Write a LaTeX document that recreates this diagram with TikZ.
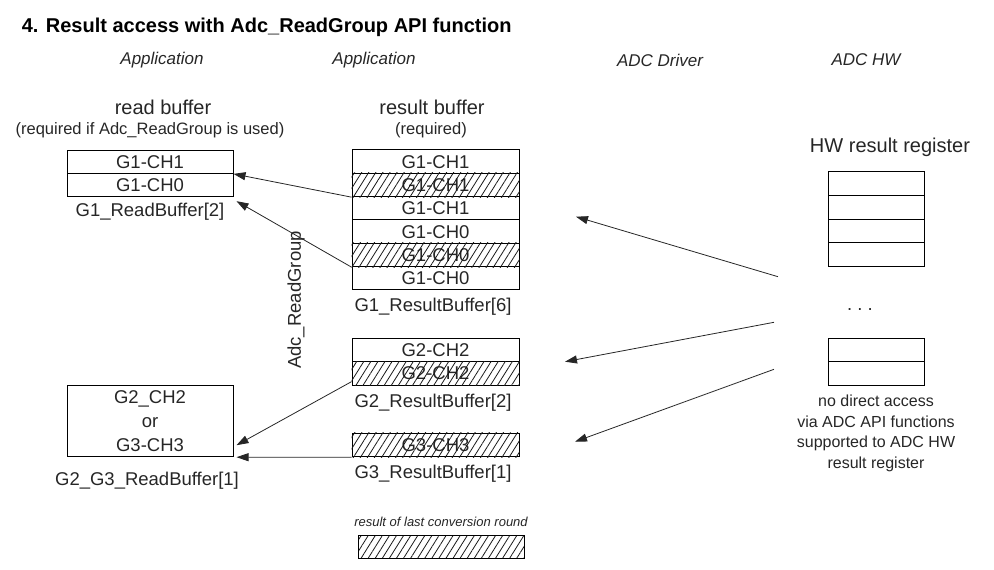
\documentclass[tikz,border=0pt]{standalone}
\usepackage{fontspec}
\setmainfont{Liberation Sans}
\usetikzlibrary{arrows.meta,patterns.meta}

\def\cellw{167pt}
\def\cellh{23.33pt}

\begin{document}
\begin{tikzpicture}[x=1pt,y=-1pt,>={Triangle[length=12pt,width=8pt]},line width=1pt]
        \tikzstyle{cell}=[draw=black,minimum width=\cellw,minimum height=\cellh,inner sep=0pt,text=black!85,font=\fontsize{18.5}{24}\selectfont]
        \tikzstyle{hatch}=[pattern={Lines[angle=58,distance=6pt,line width=0.8pt]},pattern color=black!90]
        \tikzstyle{hwcell}=[cell,minimum width=96pt]
        \tikzstyle{head}=[text=black!85,font=\fontsize{17}{19}\selectfont\itshape]
        \tikzstyle{lbl}=[text=black!85,font=\fontsize{18.5}{20}\selectfont]
        \tikzstyle{big}=[text=black!85,font=\fontsize{20}{22}\selectfont]
        \tikzstyle{small}=[text=black!85,font=\fontsize{16.5}{20.5}\selectfont,align=center]
        \tikzstyle{conn}=[->,draw=black!85,line width=0.8pt]
        \useasboundingbox (0,0) rectangle (994,570);
        \node[anchor=west,text=black,font=\fontsize{20}{22}\selectfont\bfseries] (title) at (18,27)
            {4. Result access with Adc\_ReadGroup API function};
        % column heads
        \node[head] (app-1) at (162,60) {Application};
        \node[head] (app-2) at (374,60) {Application};
        \node[head] (drv) at (660,60) {ADC Driver};
        \node[head] (hw) at (866,60) {ADC HW};
        % read buffers
        \node[big] (rb) at (163,107) {read buffer};
        \node[small] (rb-req) at (150,130) {(required if Adc\_ReadGroup is used)};
        \node[cell,minimum width=166pt] (B1-1) at (150,161.7) {G1-CH1};
        \node[cell,minimum width=166pt] (B1-2) at (150,185) {G1-CH0};
        \node[lbl] (B1-name) at (150,212) {G1\_ReadBuffer[2]};
        \node[cell,minimum width=166pt,minimum height=71pt,align=center] (B2) at (150,421.2) {G2\_CH2\\or\\G3-CH3};
        \node[lbl] (B2-name) at (147,481) {G2\_G3\_ReadBuffer[1]};
        % result buffers
        \node[big] (res) at (432,107) {result buffer};
        \node[small] (res-req) at (431,130) {(required)};
        \foreach \name / \txt in {1/G1-CH1,2/G1-CH1,3/G1-CH1,4/G1-CH0,5/G1-CH0,6/G1-CH0}
            \node[cell] (R1-\name) at (435.5,138.33+\name*23.33) {\txt};
        \node[lbl] (R1-name) at (433,307) {G1\_ResultBuffer[6]};
        \node[cell] (R2-1) at (435.5,350) {G2-CH2};
        \node[cell] (R2-2) at (435.5,373.5) {G2-CH2};
        \node[lbl] (R2-name) at (433,403) {G2\_ResultBuffer[2]};
        \node[cell] (R3-1) at (435.5,445) {G3-CH3};
        \node[lbl] (R3-name) at (433,474) {G3\_ResultBuffer[1]};
        \foreach \cell in {R1-2,R1-5,R2-2,R3-1}
            \fill[hatch] (\cell.south west) rectangle (\cell.north east);
        \node[lbl,rotate=90] (rg) at (296,300) {Adc\_ReadGroup};
        % hw result register
        \node[big] (hwr) at (890,147) {HW result register};
        \foreach \name in {1,...,4}
            \node[hwcell,minimum height=23.75pt] (H1-\name) at (876,159.8+\name*23.75) {};
        \node[lbl,anchor=base] (dots) at (860,310) {.\ .\ .};
        \foreach \name in {1,2}
            \node[hwcell,minimum height=23.4pt] (H2-\name) at (876,326.6+\name*23.4) {};
        \node[small,font=\fontsize{16}{20.5}\selectfont] (note) at (876,433.5)
            {no direct access\\via ADC API functions\\supported to ADC HW\\result register};
        % legend
        \node[head,font=\fontsize{13}{15}\selectfont\itshape] (leg) at (441,522) {result of last conversion round};
        \node[cell,hatch,minimum width=166pt,minimum height=23pt] (leg-box) at (441,546.5) {};
        % connectors
        \coordinate (hw-1) at (778,276.7);
        \coordinate (hw-2) at (774,322.3);
        \coordinate (hw-3) at (774,369.3);
        \coordinate (drv-1) at (576,216.7);
        \coordinate (drv-2) at (565,361.7);
        \coordinate (drv-3) at (575,441.7);
        \foreach \source in {1,2,3}
            \draw[conn] (hw-\source) -- (drv-\source);
        \draw[conn] (R1-2.south west) -- (B1-1.south east);
        \draw[conn] (R1-5.south west) -- ([shift={(3pt,-4pt)}]B1-2.south east);
        \draw[conn] ([yshift=4pt]R2-2.south west) -- ([shift={(3pt,12pt)}]B2.south east);
        \draw[conn] (R3-1.south west) -- ([xshift=3pt]B2.south east);
\end{tikzpicture}
\end{document}
